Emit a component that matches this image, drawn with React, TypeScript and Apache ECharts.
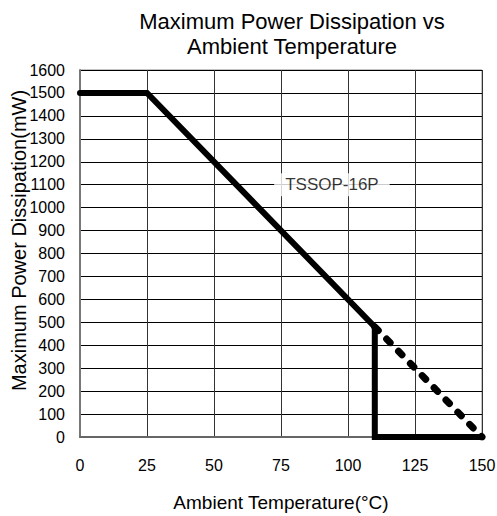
import React, { useEffect, useRef } from "react";
import * as echarts from "echarts";

const titleLines = ["Maximum Power Dissipation vs", "Ambient Temperature"];
const xName = "Ambient Temperature(°C)";
const yName = "Maximum Power Dissipation(mW)";
const xTicks = { min: 0, max: 150, step: 25 };
const yTicks = { min: 0, max: 1600, step: 100 };
const solidCurve: [number, number][] = [
  [0, 1500],
  [25, 1500],
  [110, 480],
  [110, 0],
  [150, 0],
];
const dashedCurve: [number, number][] = [
  [110, 480],
  [150, 0],
];
const packageLabel = "TSSOP-16P";
const labelPoint: [number, number] = [94, 1100];

const FONT = "'Liberation Sans', Arial, sans-serif";

export default function App() {
  const ref = useRef<HTMLDivElement>(null);
  useEffect(() => {
    if (!ref.current) return;
    const chart = echarts.init(ref.current, null, { renderer: "svg" });
    chart.setOption({
      animation: false,
      textStyle: { fontFamily: FONT },
      title: {
        text: titleLines.join("\n"),
        left: 287,
        textAlign: "center",
        top: 4,
        textStyle: { fontFamily: FONT, fontSize: 22, fontWeight: "normal", color: "#000", lineHeight: 25 },
      },
      grid: {
        left: 80,
        right: 15,
        top: 70,
        bottom: 79,
        containLabel: false,
        outerBoundsMode: "none",
        show: true,
        borderColor: "#888",
        borderWidth: 1,
      },
      xAxis: {
        type: "value",
        min: xTicks.min,
        max: xTicks.max,
        interval: xTicks.step,
        name: xName,
        nameLocation: "middle",
        nameGap: 56,
        nameMoveOverlap: false,
        nameTextStyle: { fontFamily: FONT, fontSize: 19, color: "#000" },
        axisLine: { show: true, lineStyle: { color: "#666", width: 2 } },
        axisTick: { show: false },
        axisLabel: { fontFamily: FONT, fontSize: 16, color: "#000", margin: 20 },
        splitLine: { show: true, lineStyle: { color: "#333", width: 1 } },
      },
      yAxis: {
        type: "value",
        min: yTicks.min,
        max: yTicks.max,
        interval: yTicks.step,
        name: yName,
        nameLocation: "middle",
        nameGap: 51,
        nameMoveOverlap: false,
        nameTextStyle: { fontFamily: FONT, fontSize: 20, color: "#000", padding: [0, 0, 0, 26] },
        axisLine: { show: true, lineStyle: { color: "#777", width: 2 } },
        axisTick: { show: false },
        axisLabel: { fontFamily: FONT, fontSize: 16, color: "#000", margin: 15, formatter: (v: number) => String(v) },
        splitLine: { show: true, lineStyle: { color: "#000", width: 1 } },
      },
      series: [
        {
          type: "line",
          data: solidCurve,
          symbol: "none",
          lineStyle: { color: "#000", width: 6, cap: "round", join: "miter" },
          z: 3,
        },
        {
          type: "line",
          data: dashedCurve,
          symbol: "none",
          lineStyle: { color: "#000", width: 7, type: [5, 12], cap: "round" },
          z: 3,
        },
        {
          type: "scatter",
          data: [labelPoint],
          symbolSize: 0,
          z: 4,
          label: {
            show: true,
            position: "inside",
            formatter: packageLabel,
            fontFamily: FONT,
            fontSize: 17,
            color: "#000",
            backgroundColor: "#fff",
            padding: [3, 11],
          },
        },
      ],
    });
    return () => chart.dispose();
  }, []);
  return (
    <div
      ref={ref}
      style={{ position: "fixed", left: 0, top: 0, width: 497, height: 516, background: "#fff" }}
    />
  );
}
